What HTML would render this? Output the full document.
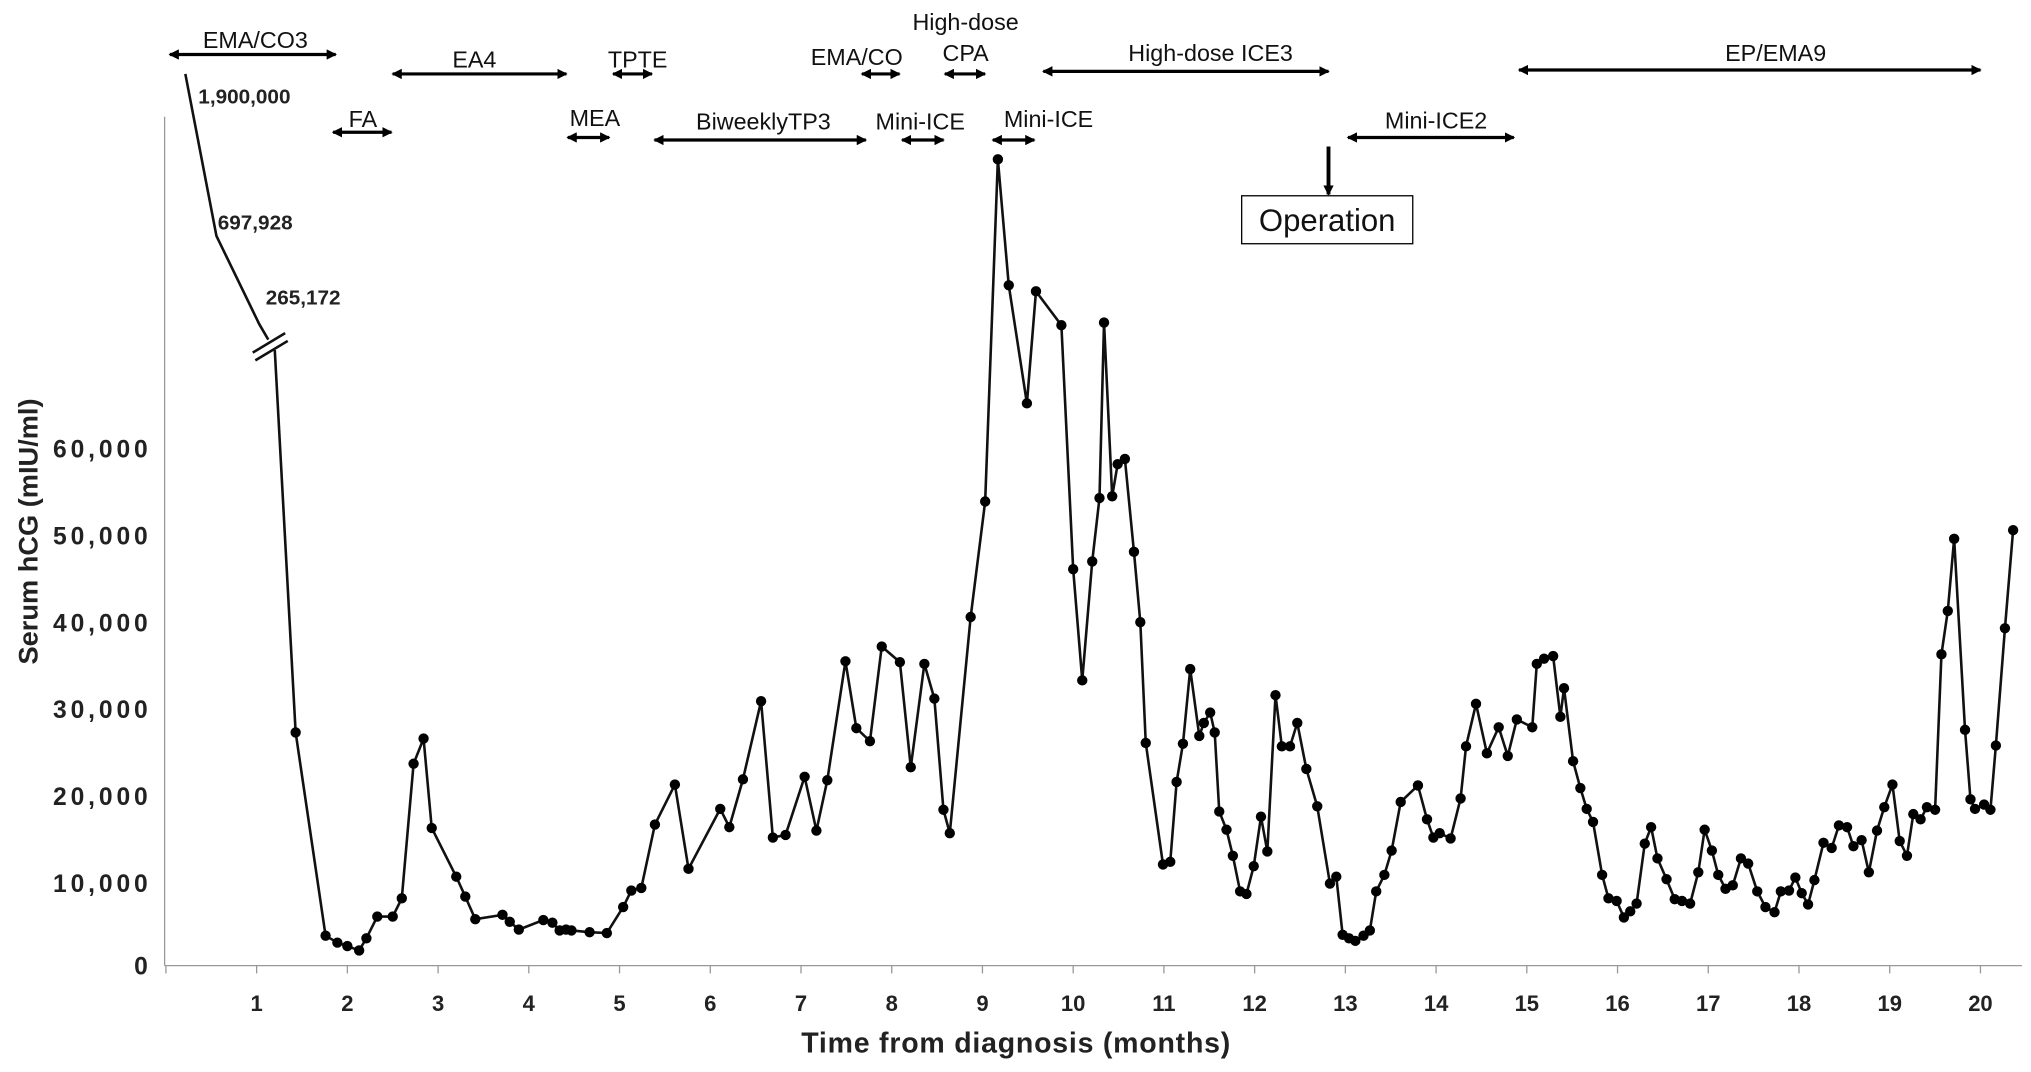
<!DOCTYPE html>
<html><head><meta charset="utf-8"><style>
html,body{margin:0;padding:0;background:#fff;}
svg{display:block;font-family:"Liberation Sans",sans-serif;}
</style></head><body>
<svg id="chart" width="2031" height="1072" viewBox="0 0 1567 827" xmlns="http://www.w3.org/2000/svg">
<defs>
<marker id="ah" markerWidth="8" markerHeight="8" refX="7" refY="4" orient="auto-start-reverse" markerUnits="userSpaceOnUse"><path d="M0,0 L8,4 L0,8 z" fill="#000"/></marker>
</defs>
<g id="axes"></g>
<g id="ann"></g>
<g id="series"></g>
</svg>
<script>
const months=[1.43,1.76,1.89,2.00,2.13,2.21,2.33,2.50,2.60,2.73,2.84,2.93,3.20,3.30,3.41,3.71,3.79,3.89,4.16,4.26,4.34,4.41,4.47,4.67,4.86,5.04,5.13,5.24,5.39,5.61,5.76,6.11,6.21,6.36,6.56,6.69,6.83,7.04,7.17,7.29,7.49,7.61,7.76,7.89,8.09,8.21,8.36,8.47,8.57,8.64,8.87,9.03,9.17,9.29,9.49,9.59,9.87,10.00,10.10,10.21,10.29,10.34,10.43,10.49,10.57,10.67,10.74,10.80,10.99,11.07,11.14,11.21,11.29,11.39,11.44,11.51,11.56,11.61,11.69,11.76,11.84,11.91,11.99,12.07,12.14,12.23,12.30,12.39,12.47,12.57,12.69,12.83,12.90,12.97,13.04,13.11,13.20,13.27,13.34,13.43,13.51,13.61,13.80,13.90,13.97,14.04,14.16,14.27,14.33,14.44,14.56,14.69,14.79,14.89,15.06,15.11,15.19,15.29,15.37,15.41,15.51,15.59,15.66,15.73,15.83,15.90,15.99,16.07,16.14,16.21,16.30,16.37,16.44,16.54,16.63,16.71,16.80,16.89,16.96,17.04,17.11,17.19,17.27,17.36,17.44,17.54,17.63,17.73,17.80,17.89,17.96,18.03,18.10,18.17,18.27,18.36,18.44,18.53,18.60,18.69,18.77,18.86,18.94,19.03,19.11,19.19,19.26,19.34,19.41,19.50,19.57,19.64,19.71,19.83,19.89,19.94,20.04,20.11,20.17,20.27,20.36];
const hcgK=[27.3,3.9,3.1,2.7,2.2,3.6,6.1,6.1,8.2,23.7,26.6,16.3,10.7,8.4,5.8,6.3,5.5,4.6,5.7,5.4,4.5,4.6,4.5,4.3,4.2,7.2,9.1,9.4,16.7,21.3,11.6,18.5,16.4,21.9,30.9,15.2,15.5,22.2,16.0,21.8,35.5,27.8,26.3,37.2,35.4,23.3,35.2,31.2,18.4,15.7,40.6,53.9,93.3,78.8,65.2,78.1,74.2,46.1,33.3,47.0,54.3,74.5,54.5,58.2,58.8,48.1,40.0,26.1,12.1,12.4,21.6,26.0,34.6,26.9,28.4,29.6,27.3,18.2,16.1,13.1,9.0,8.7,11.9,17.6,13.6,31.6,25.7,25.7,28.4,23.1,18.8,9.9,10.7,4.0,3.6,3.3,3.9,4.5,9.0,10.9,13.7,19.3,21.2,17.3,15.2,15.7,15.1,19.7,25.7,30.6,24.9,27.9,24.6,28.8,27.9,35.2,35.8,36.1,29.1,32.4,24.0,20.9,18.5,17.0,10.9,8.2,7.9,6.0,6.7,7.6,14.5,16.4,12.8,10.4,8.1,7.9,7.6,11.2,16.1,13.7,10.9,9.3,9.7,12.8,12.2,9.0,7.2,6.6,9.0,9.1,10.6,8.8,7.5,10.3,14.6,14.0,16.6,16.4,14.2,14.9,11.2,16.0,18.7,21.3,14.8,13.1,17.9,17.3,18.7,18.4,36.3,41.3,49.6,27.6,19.6,18.5,19.0,18.4,25.8,39.3,50.6];
const xTicks=[1,2,3,4,5,6,7,8,9,10,11,12,13,14,15,16,17,18,19,20];
const yTicks=[0,10,20,30,40,50,60];
const yTickLabels=["0","10,000","20,000","30,000","40,000","50,000","60,000"];

const NS="http://www.w3.org/2000/svg";
const X=m=>128+m*70;
const Y=k=>748-k*6.7;
function mk(tag,attrs,parent,text){const e=document.createElementNS(NS,tag);for(const k in attrs)e.setAttribute(k,attrs[k]);if(text!==undefined)e.textContent=text;parent.appendChild(e);return e;}
const axes=document.getElementById('axes'),ann=document.getElementById('ann'),ser=document.getElementById('series');

let a=mk('line',{x1:127,y1:90,x2:127,y2:745,stroke:'#999','stroke-width':1},axes);

a=mk('line',{x1:127,y1:745,x2:1560,y2:745,stroke:'#999','stroke-width':1},axes);

for(let m=0;m<=21;m++){if(X(m)>1560)break;const t=mk('line',{x1:X(m),y1:745,x2:X(m),y2:751,stroke:'#999'},axes);
}
xTicks.forEach(m=>{const t=mk('text',{x:X(m),y:780,'text-anchor':'middle','font-size':17,'font-weight':'bold',fill:'#222'},axes,String(m));
});
yTicks.forEach((v,i)=>{const yy=i===0?745:Y(v);const t=mk('text',{x:117,y:yy+7,'text-anchor':'end','font-size':19,'font-weight':'bold','letter-spacing':3,fill:'#222'},axes,yTickLabels[i]);
});
a=mk('text',{x:784,y:812,'text-anchor':'middle','font-size':22,'font-weight':'bold','letter-spacing':0.6,fill:'#222'},axes,'Time from diagnosis (months)');

a=mk('text',{x:0,y:0,transform:'translate(29,410) rotate(-90)','text-anchor':'middle','font-size':21,'font-weight':'bold',fill:'#222'},axes,'Serum hCG (mIU/ml)');


a=mk('polyline',{points:'143,57 167,182 200,250 207,262',fill:'none',stroke:'#111','stroke-width':2},ser);

a=mk('line',{x1:195,y1:272,x2:220,y2:257,stroke:'#111','stroke-width':2},ser);

a=mk('line',{x1:197,y1:278,x2:222,y2:263,stroke:'#111','stroke-width':2},ser);

a=mk('line',{x1:212,y1:270,x2:X(months[0]),y2:Y(hcgK[0]),stroke:'#111','stroke-width':2},ser);

[['1,900,000',153,80],['697,928',168,177],['265,172',205,235]].forEach(d=>{const t=mk('text',{x:d[1],y:d[2],'font-size':16,'font-weight':'bold',fill:'#222'},ann,d[0]);
});

let pts=months.map((m,i)=>X(m)+','+Y(hcgK[i])).join(' ');
a=mk('polyline',{points:pts,fill:'none',stroke:'#111','stroke-width':2},ser);

months.forEach((m,i)=>{const c=mk('circle',{cx:X(m),cy:Y(hcgK[i]),r:4,fill:'#000'},ser);
});

const regs=[['EMA/CO3',131,259,42,197,37],['EA4',303,437,57,366,52],['TPTE',473,503,57,492,52],['EMA/CO',665,694,57,661,50],['CPA',729,760,57,745,47],['High-dose ICE3',805,1025,55,934,47],['EP/EMA9',1172,1528,54,1370,47],['FA',257,302,102,280,98],['MEA',438,470,106,459,97],['BiweeklyTP3',505,668,108,589,100],['Mini-ICE',696,728,108,710,100],['Mini-ICE',766,798,108,809,98],['Mini-ICE2',1040,1168,106,1108,99]];
regs.forEach(r=>{const l=mk('line',{x1:r[1],y1:r[3],x2:r[2],y2:r[3],stroke:'#000','stroke-width':2.5,'marker-start':'url(#ah)','marker-end':'url(#ah)'},ann);

const t=mk('text',{x:r[4],y:r[5],'text-anchor':'middle','font-size':18,fill:'#111'},ann,r[0]);
});
a=mk('text',{x:745,y:23,'text-anchor':'middle','font-size':18,fill:'#111'},ann,'High-dose');

a=mk('line',{x1:1025,y1:113,x2:1025,y2:150,stroke:'#000','stroke-width':3,'marker-end':'url(#ah)'},ann);

a=mk('rect',{x:958,y:151,width:132,height:37,fill:'#fff',stroke:'#000','stroke-width':1},ann);

a=mk('text',{x:1024,y:178,'text-anchor':'middle','font-size':24,fill:'#111'},ann,'Operation');

</script>
</body></html>
